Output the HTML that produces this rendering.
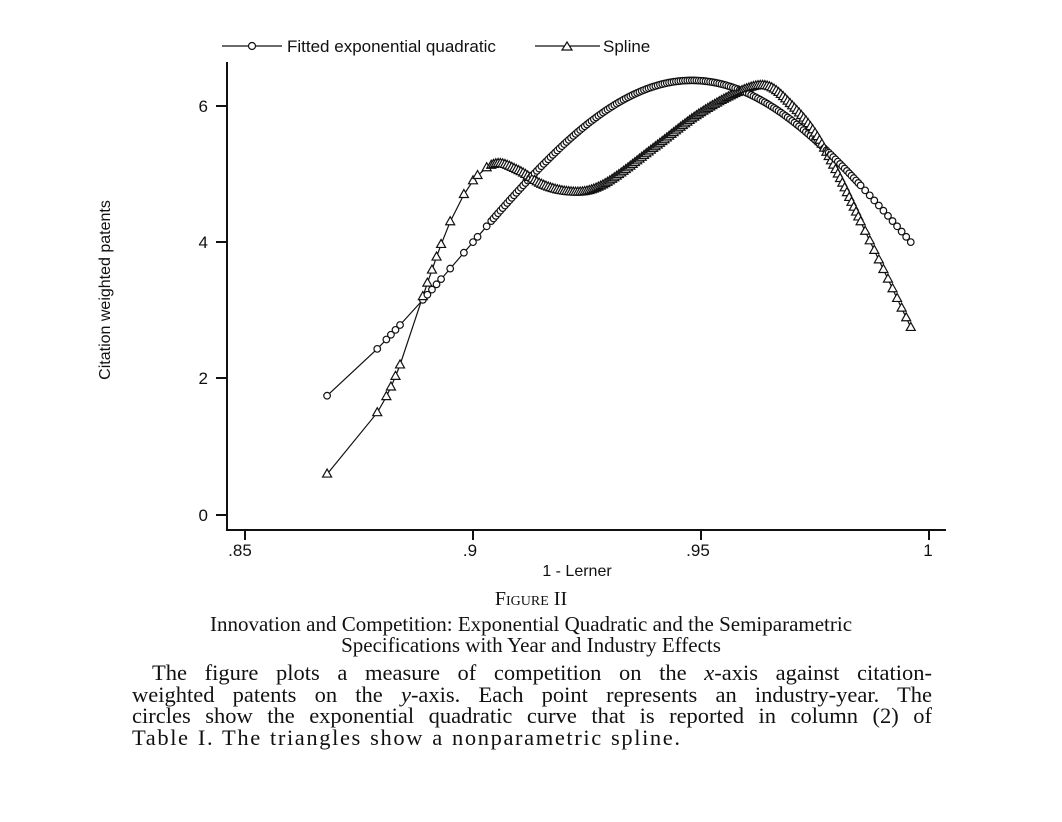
<!DOCTYPE html>
<html><head><style>
body{margin:0;background:#fff;width:1062px;height:822px;overflow:hidden;position:relative}
.s{font-family:"Liberation Serif",serif;color:#111;position:absolute}
.l{display:block;text-align:justify;text-align-last:justify;height:21.5px;white-space:nowrap}
</style></head><body>
<svg id="g" width="1062" height="580" style="position:absolute;left:0;top:0" font-family="Liberation Sans, sans-serif" fill="#111">
<g stroke="#111" stroke-width="2" fill="none">
<line x1="227" y1="62" x2="227" y2="531"/>
<line x1="226" y1="530" x2="946" y2="530"/>
<line x1="216" y1="515" x2="227" y2="515"/>
<line x1="216" y1="378" x2="227" y2="378"/>
<line x1="216" y1="242" x2="227" y2="242"/>
<line x1="216" y1="106" x2="227" y2="106"/>
<line x1="245" y1="530" x2="245" y2="540"/>
<line x1="473" y1="530" x2="473" y2="540"/>
<line x1="701" y1="530" x2="701" y2="540"/>
<line x1="929" y1="530" x2="929" y2="540"/>
</g>
<g font-size="17" text-anchor="end">
<text x="208" y="521">0</text><text x="208" y="384">2</text><text x="208" y="248">4</text><text x="208" y="112">6</text>
</g>
<g font-size="17" text-anchor="middle">
<text x="240" y="556">.85</text><text x="470" y="556">.9</text><text x="698" y="556">.95</text><text x="928" y="556">1</text>
<text x="577" y="576" font-size="16">1 - Lerner</text>
</g>
<text transform="translate(110,290) rotate(-90)" font-size="16" text-anchor="middle">Citation weighted patents</text>
<g stroke="#111" stroke-width="1.2" fill="none">
<line x1="222" y1="46" x2="282" y2="46"/><circle cx="252" cy="46" r="3.5" fill="#fff"/>
<line x1="535" y1="46" x2="600" y2="46"/><path d="M567 42 L572 50 L562 50Z" fill="#fff"/>
</g>
<text x="287" y="52" font-size="17">Fitted exponential quadratic</text>
<text x="603" y="52" font-size="17">Spline</text>
<g id="c"></g>
</svg>
<div class="s" style="top:588px;width:1062px;text-align:center;font-size:20px;font-variant:small-caps;left:0">Figure II</div>
<div class="s" style="top:614px;width:1062px;text-align:center;font-size:21px;line-height:21px;left:0">Innovation and Competition: Exponential Quadratic and the Semiparametric<br>Specifications with Year and Industry Effects</div>
<div class="s" style="top:662px;left:132px;width:800px;font-size:22.5px;line-height:22px">
<span class="l" style="padding-left:20px;width:780px">The figure plots a measure of competition on the <i>x</i>-axis against citation-</span>
<span class="l">weighted patents on the <i>y</i>-axis. Each point represents an industry-year. The</span>
<span class="l">circles show the exponential quadratic curve that is reported in column (2) of</span>
<span style="display:block;letter-spacing:1.6px;word-spacing:1px">Table I. The triangles show a nonparametric spline.</span>
</div>
<script>
const X=v=>245+(v-.85)*4560,Y=v=>515-68.2*v;
const q=x=>Math.exp(1.852-202*(x-.948)**2);
const sp=[[.868,.6],[.879,1.5],[.884,2.2],[.89,3.4],[.895,4.3],[.9,4.9],[.905,5.15],[.91,5.05],[.915,4.85],[.92,4.75],[.925,4.75],[.93,4.9],[.94,5.4],[.95,5.9],[.96,6.25],[.965,6.28],[.97,6.0],[.975,5.6],[.98,5.0],[.985,4.3],[.99,3.6],[.996,2.75]];
function s(x){let i=0;while(i<sp.length-2&&sp[i+1][0]<x)i++;
const p0=sp[Math.max(i-1,0)],p1=sp[i],p2=sp[i+1],p3=sp[Math.min(i+2,sp.length-1)];
const t=(x-p1[0])/(p2[0]-p1[0]);const m1=(p2[1]-p0[1])/(p2[0]-p0[0])*(p2[0]-p1[0]),m2=(p3[1]-p1[1])/(p3[0]-p1[0])*(p2[0]-p1[0]);
const t2=t*t,t3=t2*t;return (2*t3-3*t2+1)*p1[1]+(t3-2*t2+t)*m1+(-2*t3+3*t2)*p2[1]+(t3-t2)*m2;}
let xs=[.868,.879,.881,.882,.883,.884,.889,.89,.891,.892,.893,.895,.898,.9,.901,.903];
for(let x=.904;x<.985;x+=.0005)xs.push(x);
xs.push(.986,.987,.988,.989,.99,.991,.992,.993,.994,.995,.996);
let h='',a='',b='';
xs.forEach((x,i)=>{const px=X(x);a+=(i?'L':'M')+px.toFixed(1)+' '+Y(q(x)).toFixed(1);b+=(i?'L':'M')+px.toFixed(1)+' '+Y(s(x)).toFixed(1);});
h+=`<path d="${a}" stroke="#111" fill="none" stroke-width="1.2"/><path d="${b}" stroke="#111" fill="none" stroke-width="1.2"/>`;
xs.forEach(x=>{const px=X(x),qy=Y(q(x)),sy=Y(s(x));
h+=`<circle cx="${px}" cy="${qy}" r="3.3" fill="#fff" stroke="#111" stroke-width="1.2"/>`;
h+=`<path d="M${px} ${sy-5}L${px+4.5} ${sy+3}L${px-4.5} ${sy+3}Z" fill="#fff" stroke="#111" stroke-width="1.2"/>`;});
document.getElementById('c').innerHTML=h;
</script>
</body></html>
